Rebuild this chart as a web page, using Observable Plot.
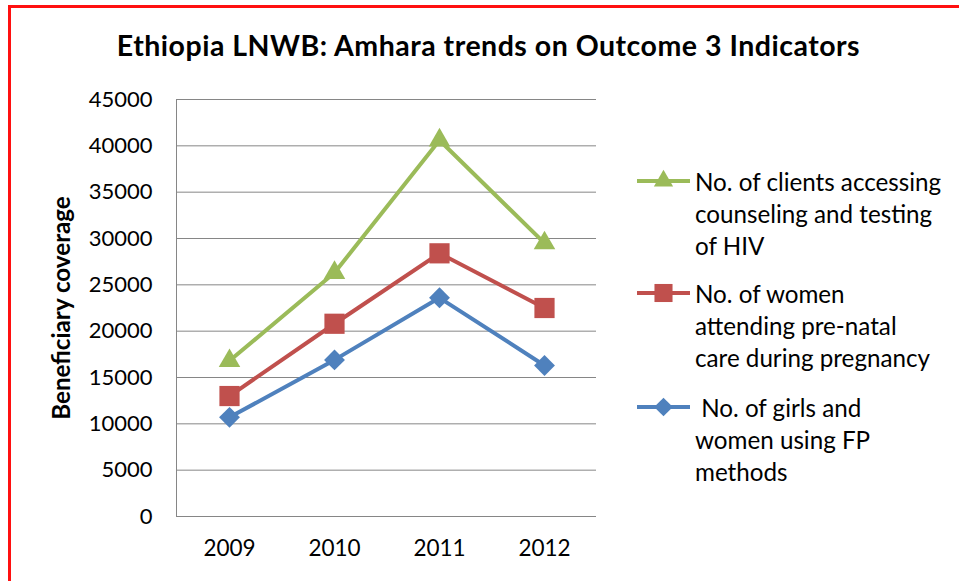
<!DOCTYPE html>
<html>
<head>
<meta charset="utf-8">
<script src="https://cdn.jsdelivr.net/npm/d3@7"></script>
<script src="https://cdn.jsdelivr.net/npm/@observablehq/plot@0.6"></script>
<style>
  html, body { margin: 0; padding: 0; background: #fff; }
  #wrap { position: relative; width: 959px; height: 581px; overflow: hidden; background: #fff; font-family: Lato, "Open Sans", sans-serif; }
  #frame { position: absolute; left: 8px; top: 5px; width: 2000px; height: 2000px; border-left: 3px solid #ff1010; border-top: 3px solid #ff1010; box-sizing: border-box; }
  #title { position: absolute; left: 0; width: 977px; top: 28px; text-align: center; font-weight: bold; font-size: 28.5px; letter-spacing: 0.5px; color: #000; white-space: nowrap; }
  #chart { position: absolute; left: 0; top: 0; }
  .leg { position: absolute; left: 637px; }
  .leg svg { position: absolute; left: 0; top: 0; overflow: visible; }
  .leg .txt { position: absolute; left: 58px; top: 0; font-size: 24.2px; line-height: 32px; color: #000; white-space: nowrap; }
</style>
</head>
<body>
<div id="wrap">
  <div id="frame"></div>
  <div id="title"></div>
  <div id="chart"></div>
  <div id="legend"></div>
</div>
<script>
const title = "Ethiopia LNWB: Amhara trends on Outcome 3 Indicators";
const yLabel = "Beneficiary coverage";
const years = ["2009", "2010", "2011", "2012"];
const seriesNames = [
  "No. of clients accessing counseling and testing of HIV",
  "No. of women attending pre-natal care during pregnancy",
  "No. of girls and women using FP methods"
];
const legendLines = [
  ["No. of clients accessing", "counseling and testing", "of HIV"],
  ["No. of women", "attending pre-natal", "care during pregnancy"],
  ["\u00a0No. of girls and", "women using FP", "methods"]
];
const hivClients = [16800, 26300, 40600, 29500];
const prenatalCare = [13000, 20800, 28400, 22500];
const fpUsers = [10700, 16900, 23600, 16300];
const yTicks = [0, 5000, 10000, 15000, 20000, 25000, 30000, 35000, 40000, 45000];
const colors = ["#9BBB59", "#C0504D", "#4F81BD"];
const symbols = ["triangle", "square", "diamond2"];
const symbolR = [8.0, 11.4, 9.4];

document.getElementById("title").textContent = title;

const seriesValues = [hivClients, prenatalCare, fpUsers];
const table = [];
seriesNames.forEach((s, i) => years.forEach((yr, j) => table.push({series: s, year: yr, value: seriesValues[i][j]})));

const marks = [
  Plot.gridY(yTicks, {stroke: "#868686", strokeOpacity: 1, strokeWidth: 1}),
  Plot.frame({anchor: "left", stroke: "#868686", strokeOpacity: 1}),
  Plot.axisY(yTicks, {tickSize: 0, tickPadding: 24, label: null, fontSize: 22, tickFormat: d => String(d)}),
  Plot.axisX({tickSize: 0, tickPadding: 24, label: null, fontSize: 22.5}),
  Plot.text([yLabel], {frameAnchor: "left", textAnchor: "middle", lineAnchor: "middle", rotate: -90, dx: -114, fontWeight: "bold", fontSize: 24.2, fill: "#000"})
];
[2, 1, 0].forEach(i => {
  const rows = table.filter(d => d.series === seriesNames[i]);
  marks.push(Plot.line(rows, {x: "year", y: "value", stroke: colors[i], strokeWidth: 4}));
});
[2, 1, 0].forEach(i => {
  const rows = table.filter(d => d.series === seriesNames[i]);
  marks.push(Plot.dot(rows, {x: "year", y: "value", fill: colors[i], stroke: "none", symbol: symbols[i], r: symbolR[i]}));
});

const chart = Plot.plot({
  width: 959,
  height: 581,
  marginLeft: 176,
  marginRight: 363,
  marginTop: 99,
  marginBottom: 65,
  x: {type: "point", domain: years, padding: 0.5, label: null},
  y: {domain: [0, 45000], label: null},
  style: {fontFamily: "Lato, 'Open Sans', sans-serif", fontSize: "22px", color: "#000", background: "transparent"},
  marks
});
document.getElementById("chart").appendChild(chart);

// legend
const legendTops = [166, 278, 392];
const legend = document.getElementById("legend");
seriesNames.forEach((s, i) => {
  const div = document.createElement("div");
  div.className = "leg";
  div.style.top = legendTops[i] + "px";
  const d3sym = [d3.symbolTriangle, d3.symbolSquare, d3.symbolDiamond2][i];
  const size = Math.PI * symbolR[i] * symbolR[i] * 0.8;
  const path = d3.symbol(d3sym, size)();
  div.innerHTML = `<svg width="54" height="32"><line x1="0" x2="53" y1="15" y2="15" stroke="${colors[i]}" stroke-width="4"/><path d="${path}" transform="translate(26.5,15)" fill="${colors[i]}"/></svg>` +
    `<div class="txt">${legendLines[i].join("<br>")}</div>`;
  legend.appendChild(div);
});
</script>
</body>
</html>
